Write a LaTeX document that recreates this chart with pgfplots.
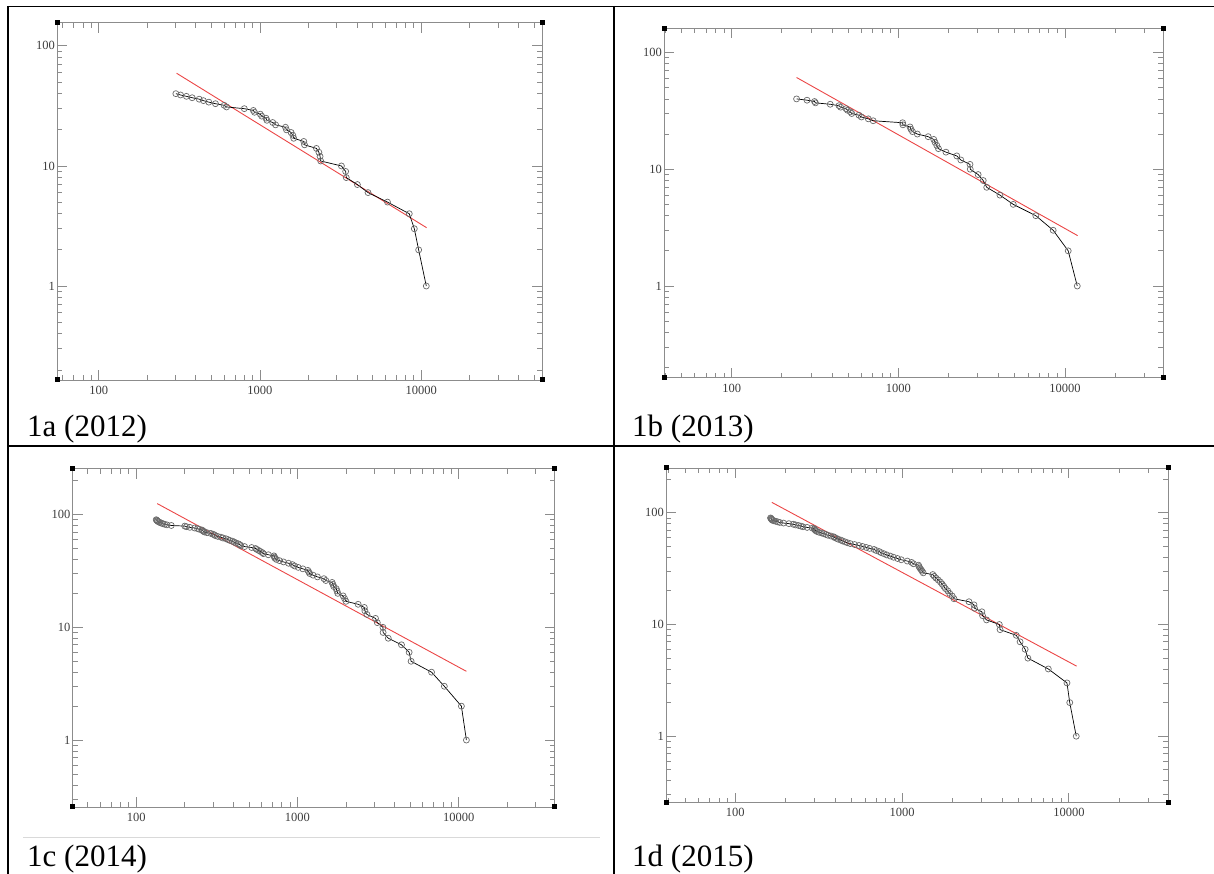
\documentclass[border=0pt]{standalone}
\usepackage{fontspec}
\setmainfont{Liberation Serif}
\usepackage{pgfplots}
\usepackage{pgfplotstable}
\pgfplotsset{compat=1.18}

\definecolor{framegray}{RGB}{140,140,140}
\definecolor{fitred}{RGB}{235,70,70}
\definecolor{markgray}{RGB}{105,105,105}
\definecolor{ticktext}{RGB}{60,60,60}

% rank-size data: x = size, y = rank
\pgfplotstableread{
x y
10750 1
9640 2
9060 3
8430 4
6180 5
4680 6
4020 7
3430 8
3400 9
3200 10
2380 11
2360 12
2320 13
2240 14
1890 15
1870 16
1620 17
1600 18
1560 19
1460 20
1440 21
1250 22
1200 23
1105 24
1090 25
1025 26
1005 27
925 28
910 29
800 30
621 31
600 32
530 33
482 34
446 35
420 36
380 37
350 38
322 39
301 40
}\dataA

\pgfplotstableread{
x y
11840 1
10450 2
8490 3
6680 4
4890 5
4070 6
3390 7
3230 8
3010 9
2700 10
2690 11
2370 12
2240 13
1930 14
1740 15
1700 16
1660 17
1630 18
1510 19
1300 20
1215 21
1190 22
1175 23
1065 24
1060 25
706 26
660 27
600 28
580 29
525 30
515 31
495 32
485 33
450 34
440 35
390 36
318 37
314 38
283 39
245 40
}\dataB

\pgfplotstableread{
x y
11170 1
10400 2
8150 3
6790 4
5070 5
4930 6
4420 7
3660 8
3400 9
3390 10
3130 11
3050 12
2700 13
2620 14
2600 15
2380 16
2000 17
1960 18
1920 19
1780 20
1760 21
1740 22
1680 23
1660 24
1640 25
1500 26
1460 27
1330 28
1250 29
1190 30
1175 31
1160 32
1080 33
1010 34
960 35
930 36
880 37
820 38
775 39
740 40
725 41
720 42
715 43
660 44
615 45
605 46
590 47
575 48
560 49
550 50
520 51
470 52
445 53
440 54
430 55
415 56
405 57
395 58
380 59
370 60
360 61
345 62
335 63
320 64
310 65
305 66
299 67
290 68
275 69
265 70
262 71
258 72
255 73
246 74
240 75
230 76
215 77
205 78
200 79
165 80
155 81
150 82
146 83
143 84
140 85
138 86
136 87
135 88
134 89
133 90
}\dataC

\pgfplotstableread{
x y
11070 1
10120 2
9740 3
7530 4
5680 5
5470 6
5100 7
4840 8
3870 9
3830 10
3210 11
3040 12
3010 13
2720 14
2700 15
2520 16
2050 17
2000 18
1930 19
1880 20
1820 21
1780 22
1740 23
1700 24
1650 25
1600 26
1560 27
1530 28
1340 29
1320 30
1300 31
1280 32
1265 33
1255 34
1170 35
1140 36
1075 37
990 38
940 39
890 40
850 41
810 42
780 43
750 44
730 45
700 46
680 47
640 48
610 49
580 50
552 51
520 52
490 53
470 54
455 55
440 56
430 57
415 58
405 59
395 60
390 61
375 62
360 63
350 64
340 65
330 66
318 67
310 68
305 69
302 70
300 71
298 72
290 73
270 74
255 75
248 76
240 77
230 78
223 79
210 80
195 81
185 82
180 83
175 84
170 85
167 86
166 87
165 88
164 89
163 90
}\dataD

\newcommand{\corners}{%
  \fill[black] (rel axis cs:0,0) ++(-2.5pt,-2.5pt) rectangle ++(5pt,5pt);
  \fill[black] (rel axis cs:1,0) ++(-2.5pt,-2.5pt) rectangle ++(5pt,5pt);
  \fill[black] (rel axis cs:0,1) ++(-2.5pt,-2.5pt) rectangle ++(5pt,5pt);
  \fill[black] (rel axis cs:1,1) ++(-2.5pt,-2.5pt) rectangle ++(5pt,5pt);
}

\begin{document}
\begin{tikzpicture}
\useasboundingbox (0pt,0pt) rectangle (1214pt,874pt);

% table rules
\draw[line width=1.8pt] (7pt,867.5pt) -- (1214pt,867.5pt);
\draw[line width=2pt] (7.5pt,868pt) -- (7.5pt,0pt);
\draw[line width=2pt] (613.5pt,868pt) -- (613.5pt,0pt);
\draw[line width=2pt] (7pt,428pt) -- (1214pt,428pt);
\draw[black!15, line width=1pt] (23pt,36.3pt) -- (600pt,36.3pt);

% 1a
\begin{axis}[xmode=log, ymode=log, scale only axis, anchor=south west, clip=false,
  axis line style={draw=framegray, line width=0.9pt},
  tick style={draw=framegray, line width=0.8pt},
  major tick length=10pt, minor tick length=5pt, tick align=inside,
  xtick={100,1000,10000}, xticklabels={100,1000,10000},
  ytick={1,10,100}, yticklabels={1,10,100},
  tick label style={font=\fontsize{12.5}{14}\selectfont, text=ticktext},
  xticklabel style={yshift=-2.5pt}, yticklabel style={xshift=1pt},
  at={(57.3pt,494pt)}, width=484.7pt, height=357.3pt,
  xmin=55.4, xmax=56100, ymin=0.165, ymax=156,
  minor xtick={60,70,80,90,200,300,400,500,600,700,800,900,2000,3000,4000,5000,6000,7000,8000,9000,20000,30000,40000,50000},
  minor ytick={0.2,0.3,0.4,0.5,0.6,0.7,0.8,0.9,2,3,4,5,6,7,8,9,20,30,40,50,60,70,80,90}]
\addplot[fitred, line width=0.9pt, mark=none] coordinates {(304,59.2) (10800,3.06)};
\addplot[black, line width=0.7pt, mark=o, mark size=3pt, mark options={draw=markgray, line width=0.7pt}] table[x=x,y=y] {\dataA};
\corners
\end{axis}

% 1b
\begin{axis}[xmode=log, ymode=log, scale only axis, anchor=south west, clip=false,
  axis line style={draw=framegray, line width=0.9pt},
  tick style={draw=framegray, line width=0.8pt},
  major tick length=10pt, minor tick length=5pt, tick align=inside,
  xtick={100,1000,10000}, xticklabels={100,1000,10000},
  ytick={1,10,100}, yticklabels={1,10,100},
  tick label style={font=\fontsize{12.5}{14}\selectfont, text=ticktext},
  xticklabel style={yshift=-2.5pt}, yticklabel style={xshift=1pt},
  at={(664.3pt,496.3pt)}, width=499pt, height=349.4pt,
  xmin=39.4, xmax=38900, ymin=0.164, ymax=161,
  minor xtick={40,50,60,70,80,90,200,300,400,500,600,700,800,900,2000,3000,4000,5000,6000,7000,8000,9000,20000,30000},
  minor ytick={0.2,0.3,0.4,0.5,0.6,0.7,0.8,0.9,2,3,4,5,6,7,8,9,20,30,40,50,60,70,80,90}]
\addplot[fitred, line width=0.9pt, mark=none] coordinates {(245,61) (11900,2.7)};
\addplot[black, line width=0.7pt, mark=o, mark size=3pt, mark options={draw=markgray, line width=0.7pt}] table[x=x,y=y] {\dataB};
\corners
\end{axis}

% 1c
\begin{axis}[xmode=log, ymode=log, scale only axis, anchor=south west, clip=false,
  axis line style={draw=framegray, line width=0.9pt},
  tick style={draw=framegray, line width=0.8pt},
  major tick length=10pt, minor tick length=5pt, tick align=inside,
  xtick={100,1000,10000}, xticklabels={100,1000,10000},
  ytick={1,10,100}, yticklabels={1,10,100},
  tick label style={font=\fontsize{12.5}{14}\selectfont, text=ticktext},
  xticklabel style={yshift=-2.5pt}, yticklabel style={xshift=1pt},
  at={(72.8pt,67pt)}, width=482pt, height=338.3pt,
  xmin=40.4, xmax=39500, ymin=0.255, ymax=255,
  minor xtick={50,60,70,80,90,200,300,400,500,600,700,800,900,2000,3000,4000,5000,6000,7000,8000,9000,20000,30000},
  minor ytick={0.3,0.4,0.5,0.6,0.7,0.8,0.9,2,3,4,5,6,7,8,9,20,30,40,50,60,70,80,90,200}]
\addplot[fitred, line width=0.9pt, mark=none] coordinates {(135,125) (11170,4.07)};
\addplot[black, line width=0.7pt, mark=o, mark size=3pt, mark options={draw=markgray, line width=0.7pt}] table[x=x,y=y] {\dataC};
\corners
\end{axis}

% 1d
\begin{axis}[xmode=log, ymode=log, scale only axis, anchor=south west, clip=false,
  axis line style={draw=framegray, line width=0.9pt},
  tick style={draw=framegray, line width=0.8pt},
  major tick length=10pt, minor tick length=5pt, tick align=inside,
  xtick={100,1000,10000}, xticklabels={100,1000,10000},
  ytick={1,10,100}, yticklabels={1,10,100},
  tick label style={font=\fontsize{12.5}{14}\selectfont, text=ticktext},
  xticklabel style={yshift=-2.5pt}, yticklabel style={xshift=1pt},
  at={(666.5pt,71.5pt)}, width=501.9pt, height=334.5pt,
  xmin=38.8, xmax=39500, ymin=0.255, ymax=252,
  minor xtick={40,50,60,70,80,90,200,300,400,500,600,700,800,900,2000,3000,4000,5000,6000,7000,8000,9000,20000,30000},
  minor ytick={0.3,0.4,0.5,0.6,0.7,0.8,0.9,2,3,4,5,6,7,8,9,20,30,40,50,60,70,80,90,200}]
\addplot[fitred, line width=0.9pt, mark=none] coordinates {(166,124) (11120,4.24)};
\addplot[black, line width=0.7pt, mark=o, mark size=3pt, mark options={draw=markgray, line width=0.7pt}] table[x=x,y=y] {\dataD};
\corners
\end{axis}

% captions
\node[anchor=base west, inner sep=0pt, font=\fontsize{31}{36}\selectfont] at (27pt,437pt) {1a (2012)};
\node[anchor=base west, inner sep=0pt, font=\fontsize{31}{36}\selectfont] at (632pt,437pt) {1b (2013)};
\node[anchor=base west, inner sep=0pt, font=\fontsize{31}{36}\selectfont] at (27pt,7pt) {1c (2014)};
\node[anchor=base west, inner sep=0pt, font=\fontsize{31}{36}\selectfont] at (632pt,7pt) {1d (2015)};
\end{tikzpicture}
\end{document}
